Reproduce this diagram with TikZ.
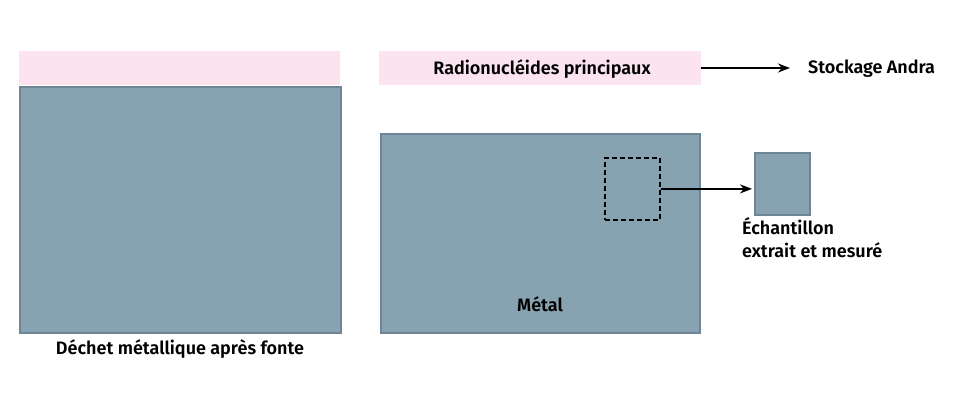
\documentclass[tikz,border=0pt]{standalone}
\usepackage{fontspec}
\setmainfont{Fira Sans}[UprightFont=* SemiBold]
\usetikzlibrary{arrows.meta}
\definecolor{pinkbg}{HTML}{FBE3EF}
\definecolor{metal}{HTML}{87A2B0}
\definecolor{metaledge}{HTML}{6D8595}
\begin{document}
\begin{tikzpicture}[x=1pt,y=-1pt,
  band/.style={fill=pinkbg,draw=none,inner sep=0pt},
  block/.style={fill=metal,draw=metaledge,line width=1.8pt,inner sep=0pt},
  lab/.style={font=\fontsize{18}{23}\selectfont,inner sep=0pt},
  arr/.style={-{Stealth[length=12pt,width=9pt]},line width=1.8pt}]
\useasboundingbox (0,0) rectangle (975,403);
\node[band,minimum width=321pt,minimum height=34pt,anchor=north west] (pl) at (19,51) {};
\node[block,minimum width=321pt,minimum height=246pt,anchor=north west] (waste) at (19,86) {};
\node[lab,anchor=base] (wlab) at (180,355) {Déchet métallique après fonte};
\node[band,minimum width=322pt,minimum height=34pt,anchor=north west] (rad) at (379,51) {};
\node[lab,anchor=base] (radlab) at (542,75) {Radionucléides principaux};
\node[lab,anchor=base west] (stock) at (808,74) {Stockage Andra};
\node[block,minimum width=319pt,minimum height=199pt,anchor=north west] (met) at (380,133) {};
\node[lab,anchor=base] (mlab) at (540,312) {Métal};
\node[draw=black,dash pattern=on 5pt off 3pt,line width=1.8pt,minimum width=55pt,minimum height=62pt,anchor=north west,inner sep=0pt] (samp) at (604,157) {};
\node[block,minimum width=55pt,minimum height=62pt,anchor=north west] (ech) at (754,152) {};
\node[lab,anchor=base west] (elab1) at (742,235) {Échantillon};
\node[lab,anchor=base west] (elab2) at (742,258) {extrait et mesuré};
\draw[arr] (rad.east |- 0,68) -- (790,68);
\draw[arr] (samp.east) -- ([xshift=-2pt]ech.west |- samp.east);
\end{tikzpicture}
\end{document}
